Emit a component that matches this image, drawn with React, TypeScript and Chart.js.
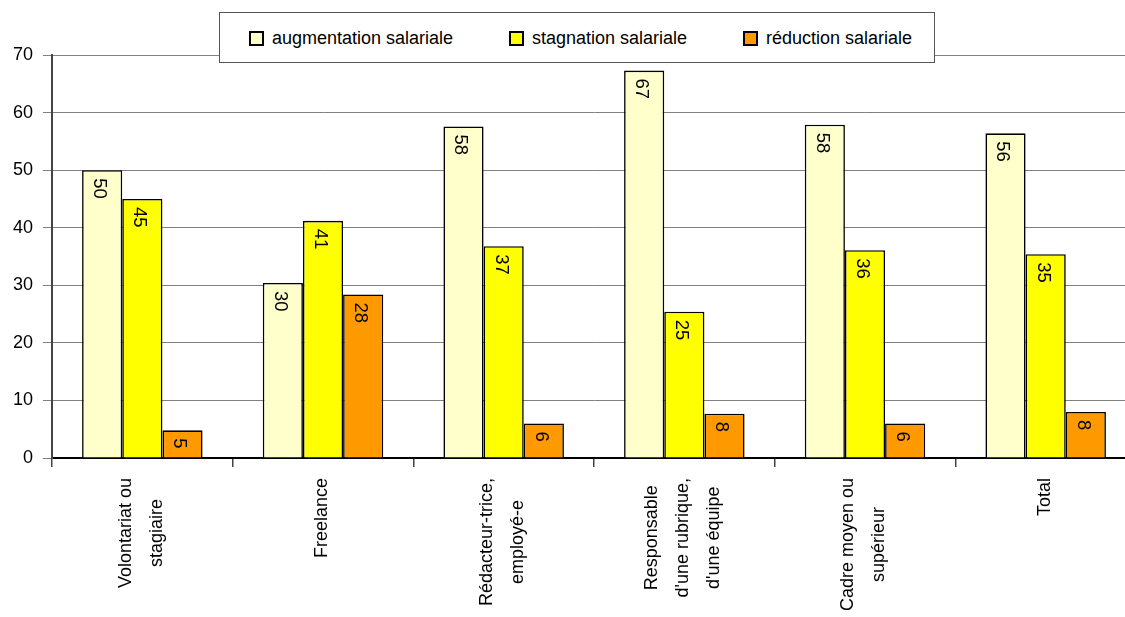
import React, { useEffect, useRef } from "react";
import { Chart, registerables } from "chart.js";

Chart.register(...registerables);

const FONT = '"Liberation Sans", Arial, Helvetica, sans-serif';

const categories: string[][] = [
  ["Volontariat ou", "stagiaire"],
  ["Freelance"],
  ["Rédacteur-trice,", "employé-e"],
  ["Responsable", "d'une rubrique,", "d'une équipe"],
  ["Cadre moyen ou", "supérieur"],
  ["Total"],
];

const seriesNames = ["augmentation salariale", "stagnation salariale", "réduction salariale"];
const augmentation = [50.0, 30.4, 57.6, 67.3, 57.9, 56.4];
const stagnation = [45.0, 41.2, 36.8, 25.4, 36.1, 35.4];
const reduction = [4.8, 28.4, 6.0, 7.7, 6.0, 8.0];
const seriesColors = ["#FFFFCC", "#FFFF00", "#FF9900"];
const yMin = 0;
const yMax = 70;
const yStep = 10;

const labelsPlugin = {
  id: "customLabels",
  afterDatasetsDraw(chart: any) {
    const ctx = chart.ctx as CanvasRenderingContext2D;
    ctx.save();
    ctx.fillStyle = "#000";
    ctx.font = `18.5px ${FONT}`;
    chart.data.datasets.forEach((ds: any, di: number) => {
      const meta = chart.getDatasetMeta(di);
      meta.data.forEach((bar: any, i: number) => {
        const v = ds.data[i];
        ctx.save();
        ctx.translate(bar.x - 3, bar.y + 8);
        ctx.rotate(Math.PI / 2);
        ctx.textAlign = "left";
        ctx.textBaseline = "middle";
        ctx.fillText(String(Math.round(v)), 0, 0);
        ctx.restore();
      });
    });
    const xs = chart.scales.x;
    const top = chart.chartArea.bottom + 20;
    ctx.font = `18px ${FONT}`;
    categories.forEach((lines, i) => {
      const cx = xs.getPixelForValue(i);
      const maxW = Math.max(...lines.map((l) => ctx.measureText(l).width));
      const n = lines.length;
      lines.forEach((line, j) => {
        const lx = cx - 1 + (j - (n - 1) / 2) * 31;
        ctx.save();
        ctx.translate(lx, top + maxW / 2);
        ctx.rotate(-Math.PI / 2);
        ctx.textAlign = "center";
        ctx.textBaseline = "middle";
        ctx.fillText(line, 0, 0);
        ctx.restore();
      });
    });
    ctx.restore();
  },
};

export default function App() {
  const ref = useRef<HTMLCanvasElement | null>(null);

  useEffect(() => {
    document.body.style.margin = "0";
    const canvas = ref.current;
    if (!canvas) return;
    const values = [augmentation, stagnation, reduction];
    const chart = new Chart(canvas, {
      type: "bar",
      data: {
        labels: categories.map((c) => c.join(" ")),
        datasets: seriesNames.map((name, k) => ({
          label: name,
          data: values[k],
          backgroundColor: seriesColors[k],
          borderColor: "#000",
          borderWidth: 1.6,
          borderSkipped: "bottom",
          barPercentage: 1,
          categoryPercentage: 0.667,
        })),
      },
      options: {
        responsive: false,
        animation: false,
        devicePixelRatio: 1,
        layout: { padding: { top: 55, left: 0, right: 1, bottom: 0 } },
        plugins: {
          legend: { display: false },
          tooltip: { enabled: false },
          title: { display: false },
        },
        scales: {
          x: {
            type: "category",
            grid: {
              offset: true,
              drawOnChartArea: false,
              drawTicks: true,
              tickLength: 9,
              color: "#444",
              lineWidth: 1.5,
            },
            border: { color: "#000", width: 2 },
            ticks: { display: false },
            afterFit: (s: any) => {
              s.height = 159;
            },
          },
          y: {
            min: yMin,
            max: yMax,
            ticks: {
              stepSize: yStep,
              color: "#000",
              padding: 10,
              font: { family: FONT, size: 18 },
            },
            grid: {
              color: "#808080",
              lineWidth: 1,
              tickLength: 9,
              drawTicks: true,
            },
            border: { color: "#444", width: 2 },
            afterFit: (s: any) => {
              s.width = 52;
            },
          },
        },
      },
      plugins: [labelsPlugin],
    });
    return () => chart.destroy();
  }, []);

  const legendItems = [
    { sq: 249, tx: 272 },
    { sq: 509, tx: 532 },
    { sq: 743, tx: 766 },
  ];
  const boxLeft = 219;
  const boxTop = 12;

  return (
    <div
      style={{
        position: "absolute",
        left: 0,
        top: 0,
        width: 1125,
        height: 617,
        overflow: "hidden",
        background: "#fff",
      }}
    >
      <canvas ref={ref} width={1137} height={617} style={{ display: "block", width: 1137, height: 617 }} />
      <div
        style={{
          position: "absolute",
          left: boxLeft,
          top: boxTop,
          width: 716,
          height: 51,
          boxSizing: "border-box",
          border: "1px solid #555",
          background: "#fff",
          fontFamily: FONT,
          fontSize: 18,
          color: "#000",
        }}
      >
        {seriesNames.map((name, k) => (
          <React.Fragment key={name}>
            <div
              style={{
                position: "absolute",
                left: legendItems[k].sq - boxLeft - 1,
                top: 31 - boxTop - 1,
                width: 15,
                height: 15,
                boxSizing: "border-box",
                border: "2px solid #000",
                background: seriesColors[k],
              }}
            />
            <div
              style={{
                position: "absolute",
                left: legendItems[k].tx - boxLeft - 1,
                top: 28 - boxTop - 1,
                lineHeight: "20px",
                whiteSpace: "nowrap",
              }}
            >
              {name}
            </div>
          </React.Fragment>
        ))}
      </div>
    </div>
  );
}
